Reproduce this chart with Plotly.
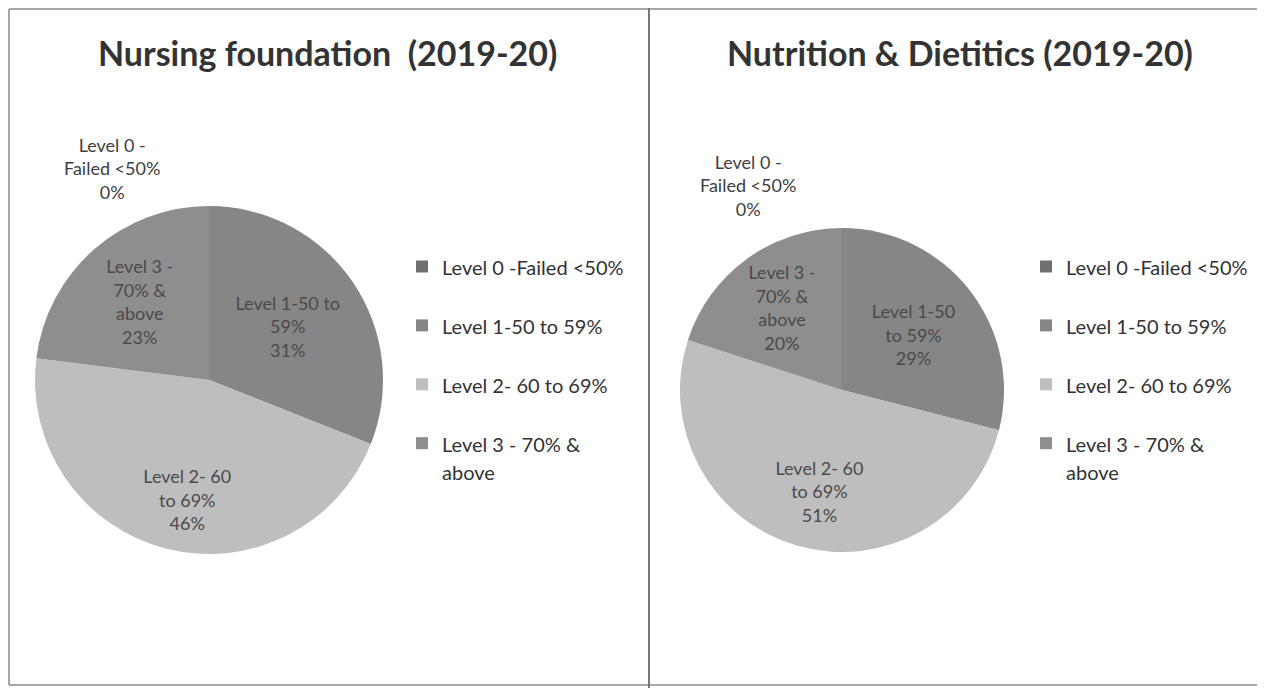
import plotly.graph_objects as go

# The page body has an 8px margin, so the figure starts at (8, 8) in the window.
OX, OY = 8, 8
W, H = 1265 - OX, 688 - OY

# ---------------- data ----------------
legend_names = ["Level 0 -Failed <50%", "Level 1-50 to 59%", "Level 2- 60 to 69%", "Level 3 - 70% &<br>above"]

nursing_title = "Nursing foundation  (2019-20)"
nursing_values = [0, 31, 46, 23]
nursing_slice_labels = ["Level 0 -<br>Failed <50%", "Level 1-50 to<br>59%", "Level 2- 60<br>to 69%", "Level 3 -<br>70% &<br>above"]

nutrition_title = "Nutrition & Dietitics (2019-20)"
nutrition_values = [0, 29, 51, 20]
nutrition_slice_labels = ["Level 0 -<br>Failed <50%", "Level 1-50<br>to 59%", "Level 2- 60<br>to 69%", "Level 3 -<br>70% &<br>above"]

slice_colors = ["#6f6f6f", "#868686", "#bebebe", "#8e8e8e"]

FONT = "Lato"
TEXT_COLOR = "#4a4a4a"

# layout tweak: blank lines above a slice's text push its label further out (per pie, per slice)
text_pad_lines = [[0, 0, 3, 0], [0, 0, 2, 0]]


def px(x):
    return (x - OX) / W


def py(y):
    return 1 - (y - OY) / H


def esc(s):
    return s.replace("<br>", "\n").replace("<", "&lt;").replace("\n", "<br>")


def legend_label(name, variant):
    # variant only makes the label strings of the two pies distinct so that each legend lists its own entries
    sp = "<span style='font-size:20px" + (";" * variant) + "'>"
    lab = sp + esc(name).replace("<br>", "</span><br>" + sp) + "</span>"
    if "<br>" not in name:
        lab += "<br> "
    return lab


def slice_texts(labels, values, pads):
    out = []
    for lab, v, p in zip(labels, values, pads):
        out.append("" if v == 0 else (" <br>" * p) + f"{esc(lab)}<br>{v}%")
    return out


def dom(cx, cy, r):
    return dict(x=[px(cx - r), px(cx + r)], y=[py(cy + r), py(cy - r)])


fig = go.Figure()

panels = [
    (nursing_values, nursing_slice_labels, dom(209, 380, 174), "legend"),
    (nutrition_values, nutrition_slice_labels, dom(842, 390, 162), "legend2"),
]

for i, (vals, slabels, d, leg) in enumerate(panels):
    fig.add_trace(go.Pie(
        labels=[legend_label(n, i) for n in legend_names],
        values=vals,
        text=slice_texts(slabels, vals, text_pad_lines[i]),
        textinfo="text",
        textposition="inside",
        insidetextorientation="horizontal",
        insidetextfont=dict(family=FONT, size=18, color=TEXT_COLOR),
        marker=dict(colors=slice_colors, line=dict(width=0)),
        sort=False,
        direction="clockwise",
        rotation=0,
        domain=d,
        legend=leg,
        hoverinfo="label+percent",
    ))

# zero-value slice labels (outside, top-left of each pie)
zero_pos = [(112, 168), (748, 186)]
for (vals, slabels, _, _), (x, y) in zip(panels, zero_pos):
    fig.add_annotation(
        x=px(x), y=py(y), xref="paper", yref="paper", xanchor="center", yanchor="middle",
        text=f"{esc(slabels[0])}<br>{vals[0]}%",
        showarrow=False, align="center",
        font=dict(family=FONT, size=18, color="#404040"),
    )

# panel titles
for t, x in [(nursing_title, 327), (nutrition_title, 960)]:
    fig.add_annotation(
        x=px(x), y=py(53), xref="paper", yref="paper", xanchor="center", yanchor="middle",
        text=t.replace("  ", "\u00a0 "), showarrow=False,
        font=dict(family=FONT, size=34, color="#333333", weight="bold"),
    )

legend_style = dict(
    font=dict(family=FONT, size=21.5, color="#333333"),
    valign="top", bgcolor="rgba(0,0,0,0)", borderwidth=0,
    xanchor="left", yanchor="top", itemclick=False,
)

# panel frame lines
line = dict(color="#8a8a8a", width=1.5)
shapes = [
    dict(type="line", xref="paper", yref="paper", x0=px(9), x1=px(1262), y0=py(9), y1=py(9), line=line),
    dict(type="line", xref="paper", yref="paper", x0=px(9), x1=px(1262), y0=py(685), y1=py(685), line=line),
    dict(type="line", xref="paper", yref="paper", x0=px(9), x1=px(9), y0=py(9), y1=py(685), line=line),
    dict(type="line", xref="paper", yref="paper", x0=px(649), x1=px(649), y0=1, y1=0,
         line=dict(color="#777777", width=2)),
    dict(type="line", xref="paper", yref="paper", x0=px(1262), x1=px(1262), y0=py(9), y1=py(685),
         line=dict(color="#cccccc", width=1)),
]

fig.update_layout(
    width=W, height=H,
    margin=dict(l=0, r=0, t=0, b=0),
    paper_bgcolor="white", plot_bgcolor="white",
    showlegend=True,
    legend=dict(x=px(402), y=py(246), **legend_style),
    legend2=dict(x=px(1026), y=py(246), **legend_style),
    shapes=shapes,
    font=dict(family=FONT),
)

fig.write_html("out.html")
